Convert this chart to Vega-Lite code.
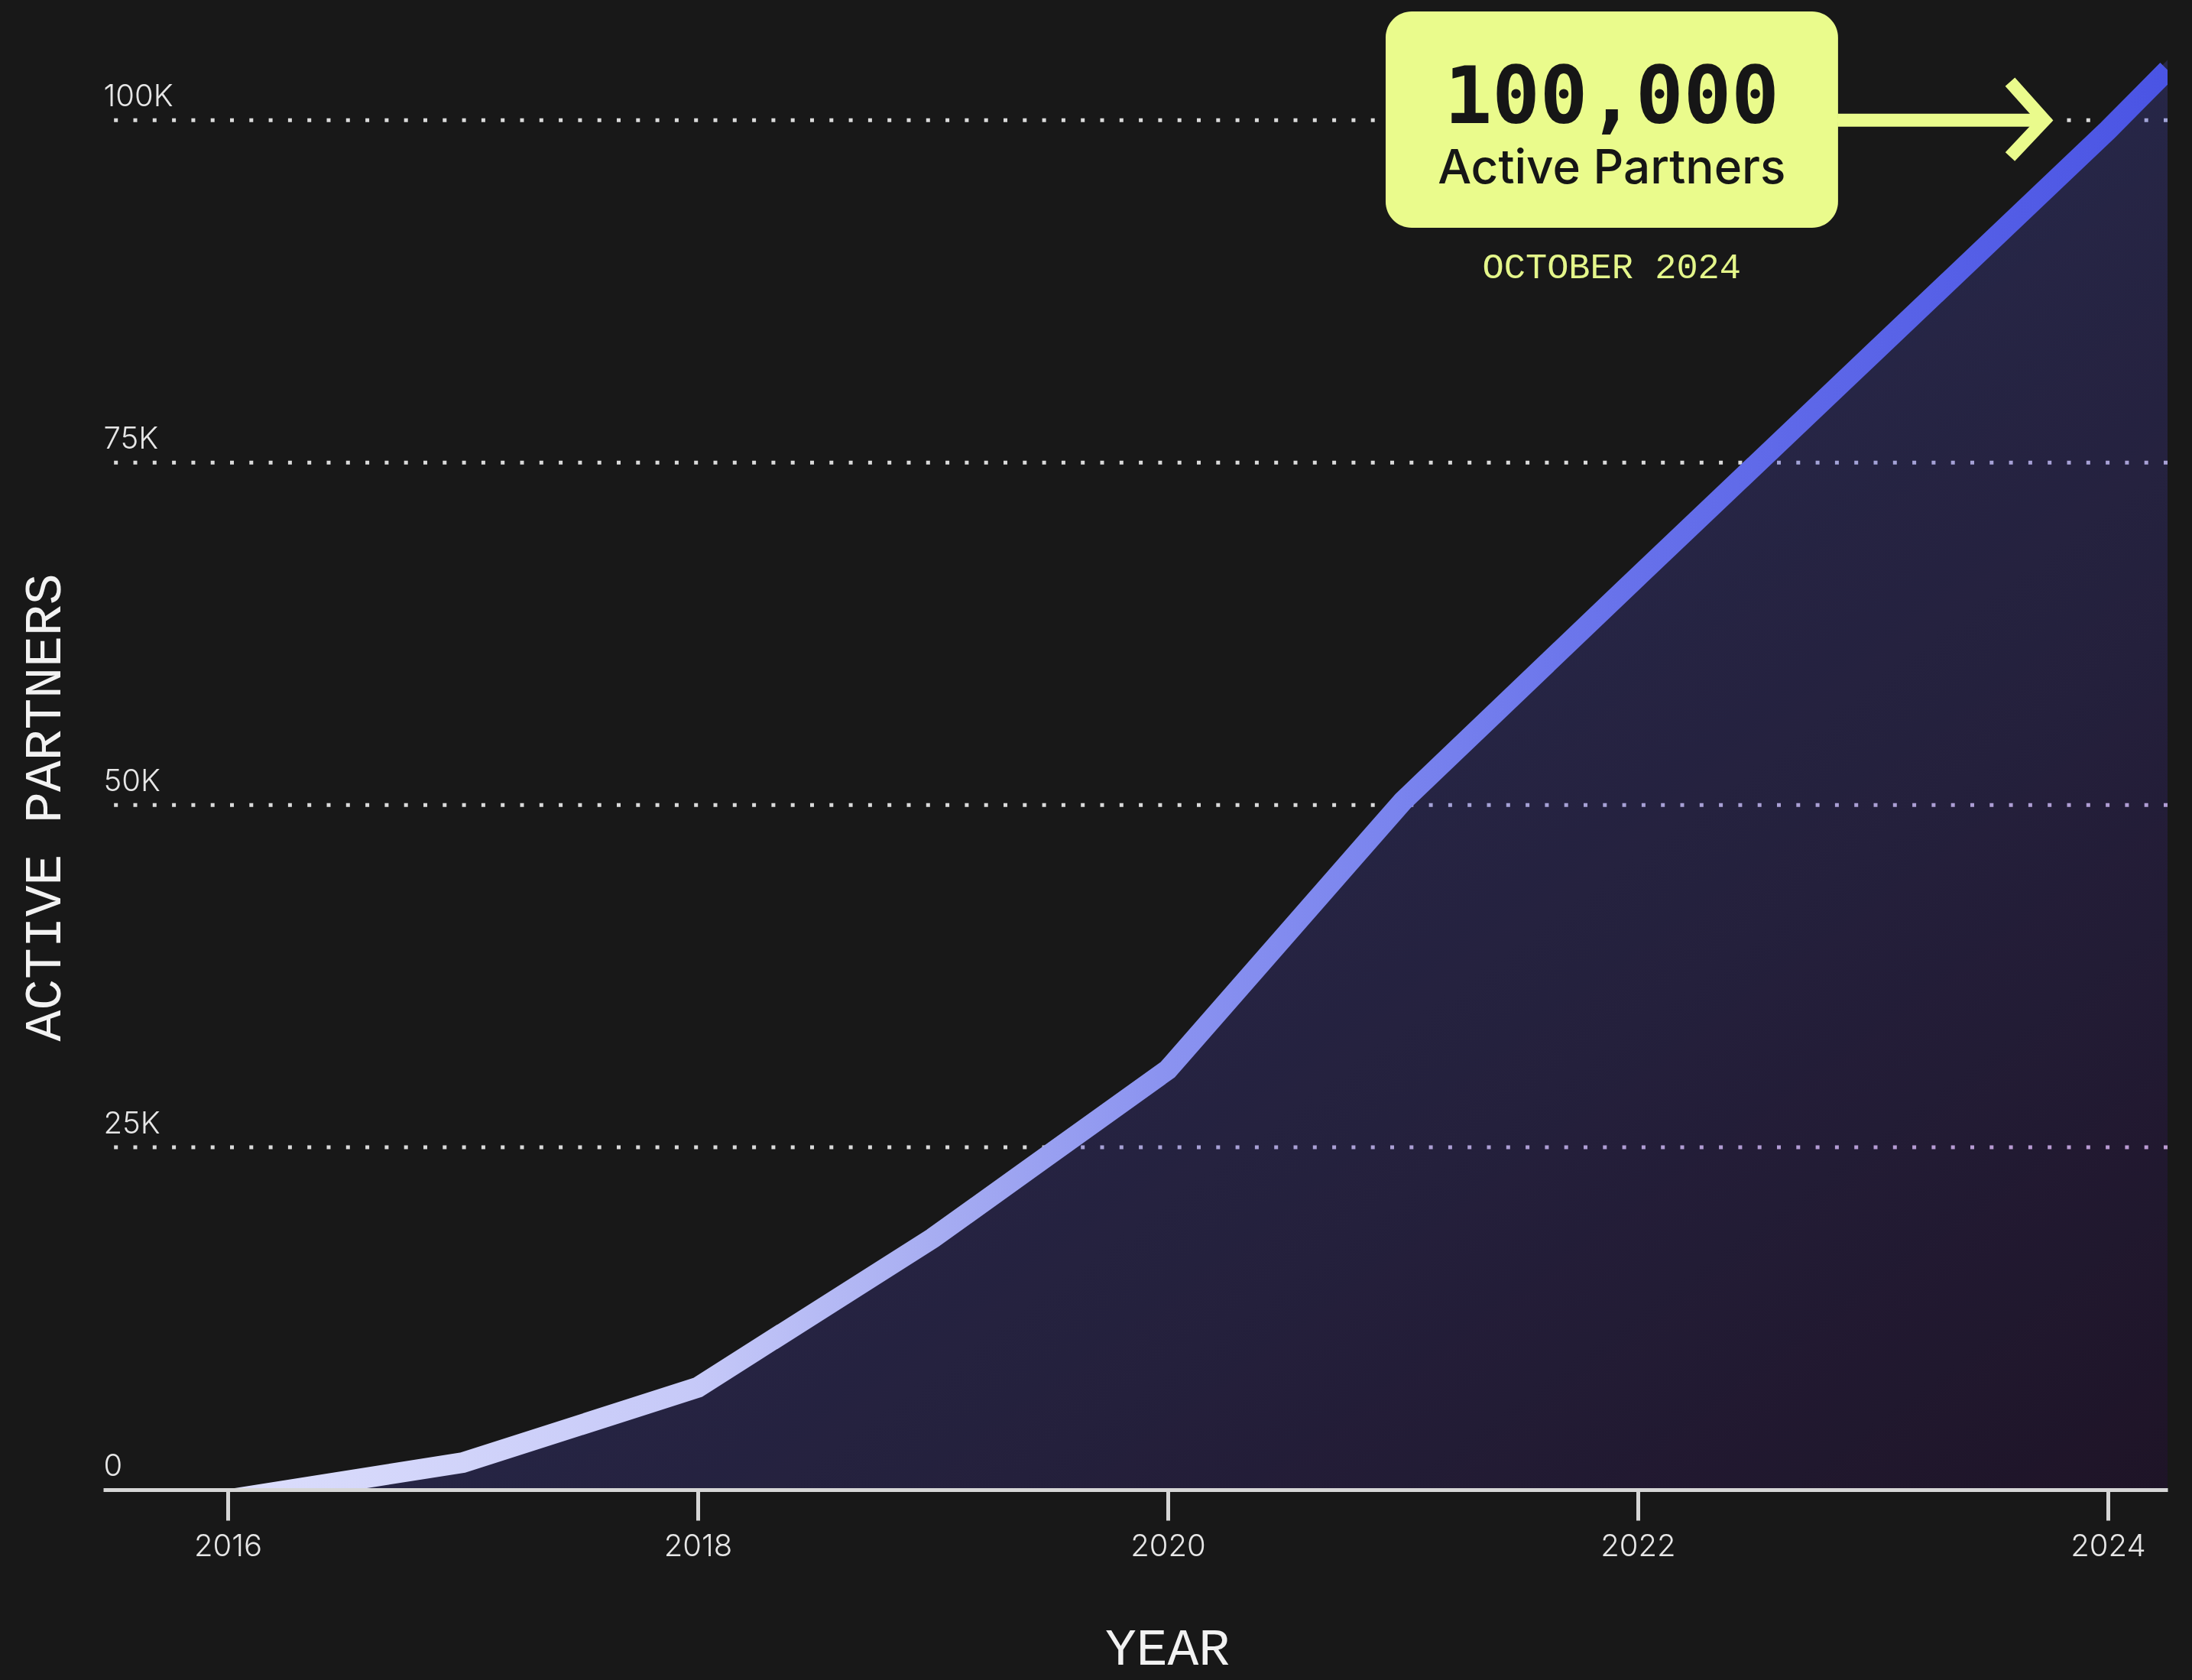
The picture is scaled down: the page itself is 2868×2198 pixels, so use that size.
{
  "$schema": "https://vega.github.io/schema/vega-lite/v6.json",
  "background": "#181818",
  "autosize": {"type": "none"},
  "padding": {"left": 135, "top": 14, "right": 32, "bottom": 249},
  "width": 2701,
  "height": 1935,
  "config": {"view": {"stroke": null}},
  "datasets": {
    "partners": [
      {"year": 2016, "partners": 0},
      {"year": 2017, "partners": 2700},
      {"year": 2018, "partners": 8200},
      {"year": 2019, "partners": 19100},
      {"year": 2020, "partners": 31400},
      {"year": 2021, "partners": 51000},
      {"year": 2022, "partners": 67400},
      {"year": 2023, "partners": 83700},
      {"year": 2024, "partners": 100000},
      {"year": 2024.254, "partners": 104400}
    ],
    "grid": [
      {"partners": 25000},
      {"partners": 50000},
      {"partners": 75000},
      {"partners": 100000}
    ]
  },
  "layer": [
    {
      "data": {"name": "partners"},
      "mark": {
        "type": "area",
        "interpolate": "linear",
        "fill": {
          "gradient": "linear", "x1": 0, "y1": 0, "x2": 1, "y2": 1,
          "stops": [
            {"offset": 0, "color": "#37364c"},
            {"offset": 0.4, "color": "#37364c"},
            {"offset": 0.7, "color": "#2d2b3d"},
            {"offset": 1, "color": "#211c28"}
          ]
        }
      },
      "encoding": {
        "x": {
          "field": "year", "type": "quantitative",
          "scale": {"domain": [2015.47, 2024.254], "nice": false, "zero": false},
          "axis": {
            "title": "YEAR",
            "values": [2016, 2018, 2020, 2022, 2024],
            "format": "d",
            "grid": false,
            "zindex": 1,
            "domainColor": "#d6d6d6", "domainWidth": 5,
            "tickColor": "#d6d6d6", "tickWidth": 5, "tickSize": 40,
            "labelPadding": 14, "labelFont": "Inter", "labelFontWeight": 300,
            "labelFontSize": 40, "labelColor": "#e6e6e6", "labelFlush": false, "labelOverlap": false,
            "titleFont": "Liberation Mono", "titleFontSize": 68, "titleFontWeight": "normal",
            "titleColor": "#f2f2f2", "titleX": 1392, "titleY": 228,
            "titleAlign": "center", "titleBaseline": "alphabetic"
          }
        },
        "y": {
          "field": "partners", "type": "quantitative",
          "scale": {"domain": [0, 108000], "nice": false},
          "axis": {
            "title": "ACTIVE PARTNERS",
            "values": [0, 25000, 50000, 75000, 100000],
            "grid": false, "domain": false, "ticks": false, "tickSize": 0,
            "labelAlign": "left", "labelBaseline": "alphabetic",
            "labelPadding": 0, "labelOffset": -19, "labelFlush": false, "labelOverlap": false,
            "labelFont": "Inter", "labelFontWeight": 300, "labelFontSize": 40, "labelColor": "#e6e6e6",
            "labelExpr": "datum.value === 0 ? '0' : (datum.value / 1000) + 'K'",
            "titleFont": "Liberation Mono", "titleFontSize": 68, "titleFontWeight": "normal",
            "titleColor": "#f2f2f2", "titleAngle": 270, "titleX": -77, "titleY": 1042,
            "titleAlign": "center", "titleBaseline": "middle"
          }
        }
      }
    },
    {
      "data": {"name": "grid"},
      "mark": {"type": "rule", "strokeDash": [5, 20.3], "strokeWidth": 5, "color": "#dadada"},
      "encoding": {
        "y": {"field": "partners", "type": "quantitative"}
      }
    },
    {
      "data": {"name": "partners"},
      "mark": {
        "type": "area",
        "interpolate": "linear",
        "blend": "multiply",
        "fill": {
          "gradient": "linear", "x1": 0, "y1": 0, "x2": 1, "y2": 1,
          "stops": [
            {"offset": 0, "color": "#b4c4ff"},
            {"offset": 0.4, "color": "#b4c4ff"},
            {"offset": 0.7, "color": "#cabafa"},
            {"offset": 1, "color": "#e6b0f5"}
          ]
        }
      },
      "encoding": {
        "x": {"field": "year", "type": "quantitative"},
        "y": {"field": "partners", "type": "quantitative"}
      }
    },
    {
      "data": {"name": "partners"},
      "mark": {
        "type": "line",
        "clip": true,
        "strokeWidth": 27,
        "yOffset": 13,
        "strokeJoin": "miter",
        "strokeCap": "butt",
        "stroke": {
          "gradient": "linear", "x1": 0, "y1": 0, "x2": 1, "y2": 0,
          "stops": [
            {"offset": 0, "color": "#dcdefc"},
            {"offset": 0.24, "color": "#c6c9f8"},
            {"offset": 0.36, "color": "#a8aef2"},
            {"offset": 0.48, "color": "#8b93f0"},
            {"offset": 0.6, "color": "#7a84ee"},
            {"offset": 0.73, "color": "#6670ea"},
            {"offset": 1, "color": "#4a54e4"}
          ]
        }
      },
      "encoding": {
        "x": {"field": "year", "type": "quantitative"},
        "y": {"field": "partners", "type": "quantitative"}
      }
    },
    {
      "data": {"values": [{"year": 2020.927, "year_end": 2022.852, "partners": 107940, "partners_end": 92150}]},
      "mark": {"type": "rect", "cornerRadius": 34, "color": "#eafb8c"},
      "encoding": {
        "x": {"field": "year", "type": "quantitative"},
        "x2": {"field": "year_end"},
        "y": {"field": "partners", "type": "quantitative"},
        "y2": {"field": "partners_end"}
      }
    },
    {
      "data": {"values": [{"year": 2022.85, "year_end": 2023.73, "partners": 100000}]},
      "mark": {"type": "rule", "strokeWidth": 17, "color": "#eafb8c", "strokeCap": "butt"},
      "encoding": {
        "x": {"field": "year", "type": "quantitative"},
        "x2": {"field": "year_end"},
        "y": {"field": "partners", "type": "quantitative"}
      }
    },
    {
      "data": {"values": [
        {"year": 2023.584, "partners": 102800, "seq": 1},
        {"year": 2023.73, "partners": 100000, "seq": 2},
        {"year": 2023.584, "partners": 97340, "seq": 3}
      ]},
      "mark": {"type": "line", "strokeWidth": 17, "color": "#eafb8c", "strokeJoin": "miter", "strokeCap": "butt"},
      "encoding": {
        "x": {"field": "year", "type": "quantitative"},
        "y": {"field": "partners", "type": "quantitative"},
        "order": {"field": "seq", "type": "quantitative"}
      }
    },
    {
      "data": {"values": [{"year": 2021.889, "partners": 99790, "label": "100,000"}]},
      "mark": {"type": "text", "font": "DejaVu Sans Mono", "fontWeight": "bold", "fontSize": 104, "color": "#161616", "align": "center", "baseline": "alphabetic"},
      "encoding": {
        "x": {"field": "year", "type": "quantitative"},
        "y": {"field": "partners", "type": "quantitative"},
        "text": {"field": "label"}
      }
    },
    {
      "data": {"values": [{"year": 2021.889, "partners": 95380, "label": "Active Partners"}]},
      "mark": {"type": "text", "font": "Inter", "fontWeight": 500, "fontSize": 62, "color": "#161616", "align": "center", "baseline": "alphabetic"},
      "encoding": {
        "x": {"field": "year", "type": "quantitative"},
        "y": {"field": "partners", "type": "quantitative"},
        "text": {"field": "label"}
      }
    },
    {
      "data": {"values": [{"year": 2021.889, "partners": 88460, "label": "OCTOBER 2024"}]},
      "mark": {"type": "text", "font": "Liberation Mono", "fontSize": 47, "color": "#e4f68a", "align": "center", "baseline": "alphabetic"},
      "encoding": {
        "x": {"field": "year", "type": "quantitative"},
        "y": {"field": "partners", "type": "quantitative"},
        "text": {"field": "label"}
      }
    }
  ]
}
